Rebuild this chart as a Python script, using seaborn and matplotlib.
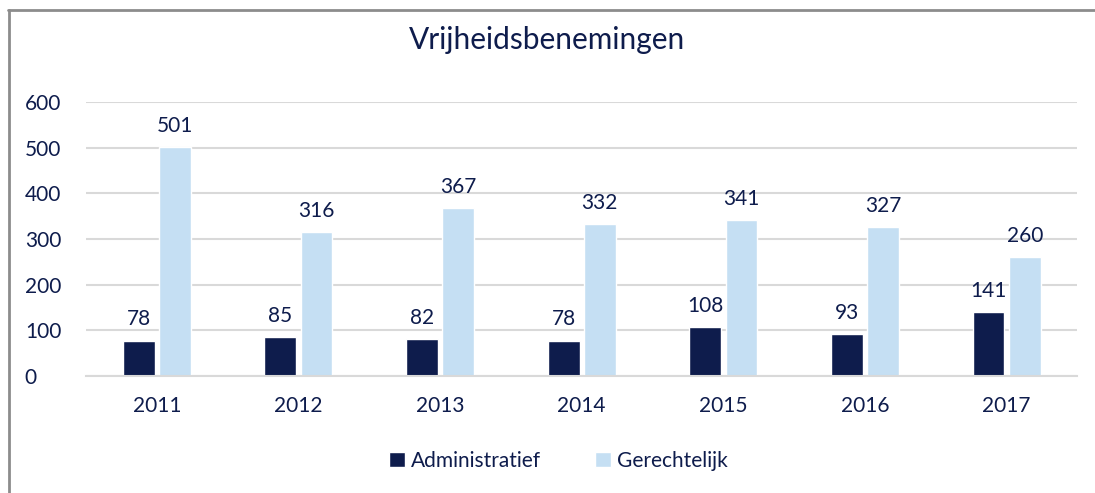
import matplotlib
matplotlib.use("Agg")
import matplotlib.pyplot as plt
import seaborn as sns
import pandas as pd
from matplotlib.lines import Line2D

years = ["2011", "2012", "2013", "2014", "2015", "2016", "2017"]
administratief = [78, 85, 82, 78, 108, 93, 141]
gerechtelijk = [501, 316, 367, 332, 341, 327, 260]
series_names = ["Administratief", "Gerechtelijk"]
title = "Vrijheidsbenemingen"

navy = "#0E1C4C"
light = "#C5DFF3"
grid = "#D9D9D9"

df = pd.DataFrame({
    "year": years * 2,
    "value": administratief + gerechtelijk,
    "series": [series_names[0]] * len(years) + [series_names[1]] * len(years),
})

sns.set_theme(style="white")
plt.rcParams["font.family"] = ["Lato", "DejaVu Sans"]

fig = plt.figure(figsize=(10.95, 4.93), dpi=100)
ax = fig.add_axes([0.0785, 0.237, 0.9055, 0.556])

sns.barplot(data=df, x="year", y="value", hue="series", order=years,
            hue_order=series_names, palette=[navy, light], width=0.51, gap=0.12,
            ax=ax, legend=True, saturation=1)

ax.set_ylim(0, 600)
ax.set_yticks(range(0, 601, 100))
ax.yaxis.grid(True, color=grid, linewidth=1.5)
ax.set_axisbelow(True)
for s in ["top", "right", "left"]:
    ax.spines[s].set_visible(False)
ax.spines["bottom"].set_color(grid)
ax.spines["bottom"].set_linewidth(1.5)
ax.set_xlabel("")
ax.set_ylabel("")
ax.tick_params(axis="both", colors=navy, labelsize=15, length=0)
ax.tick_params(axis="x", pad=14)
ax.tick_params(axis="y", pad=44)
for lab in ax.get_yticklabels():
    lab.set_horizontalalignment("left")

for cont in ax.containers:
    ax.bar_label(cont, padding=8, color=navy, fontsize=15)

handles, labels = ax.get_legend_handles_labels()
ax.legend(handles, labels, loc="center", bbox_to_anchor=(0.51, 1 - 461 / 493),
          bbox_transform=fig.transFigure, ncol=2, frameon=False,
          fontsize=15, labelcolor=navy, handlelength=0.75, handleheight=0.75,
          handletextpad=0.3, columnspacing=2.6)

fig.text(0.5, 1 - 40 / 493, title, ha="center", va="center", fontsize=21.5, color=navy)

fig.add_artist(Line2D([8 / 1095, 1], [1 - 10 / 493, 1 - 10 / 493],
                      transform=fig.transFigure, color="#8C8C8C", linewidth=2))
fig.add_artist(Line2D([9 / 1095, 9 / 1095], [0, 1 - 10 / 493],
                      transform=fig.transFigure, color="#8C8C8C", linewidth=2))

fig.savefig("out.png", dpi=100, facecolor="white")
